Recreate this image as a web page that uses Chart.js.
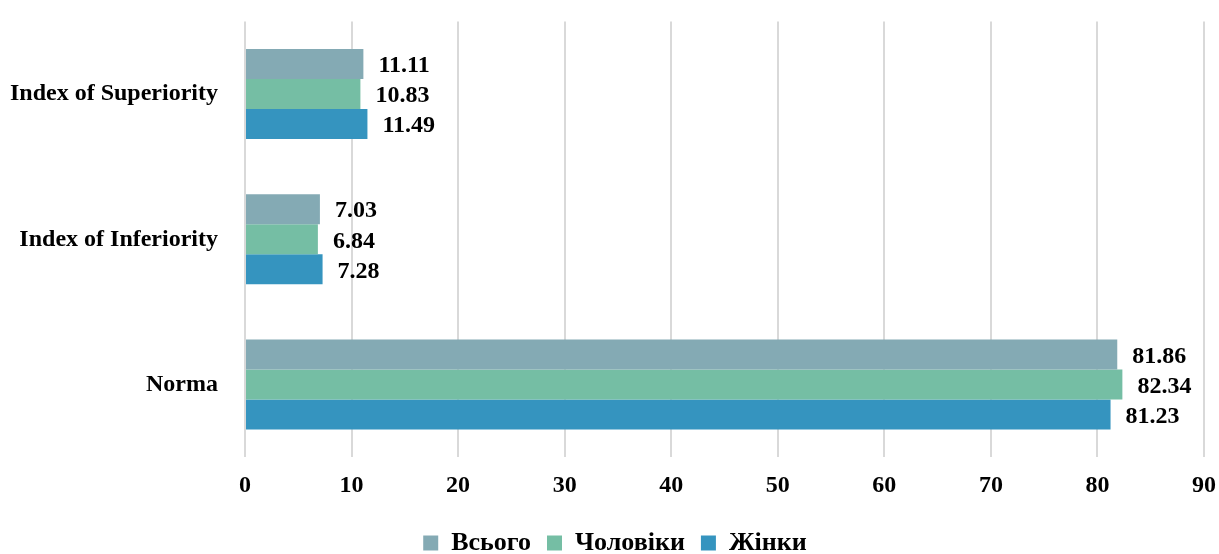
<!DOCTYPE html>
<html>
<head>
<meta charset="utf-8">
<script src="https://cdn.jsdelivr.net/npm/chart.js@4"></script>
<style>
  html, body { margin: 0; padding: 0; background: #ffffff; overflow: hidden; }
  body { width: 1219px; height: 554px; }
  #wrap { position: relative; top: -12px; width: 1230px; height: 578px; }
</style>
</head>
<body>
<div id="wrap"><canvas id="indexChart"></canvas></div>
<script>
// categories and series
const categories = ['Index of Superiority', 'Index of Inferiority', 'Norma'];
const seriesNames = ['Всього', 'Чоловіки', 'Жінки'];
const totalValues = [11.11, 7.03, 81.86];
const menValues = [10.83, 6.84, 82.34];
const womenValues = [11.49, 7.28, 81.23];
const seriesColors = ['#84aab4', '#75bea4', '#3594bf'];

const FONT = '"Liberation Serif", "Times New Roman", serif';

// draws value labels to the right of each bar
const valueLabels = {
  id: 'valueLabels',
  afterDatasetsDraw(chart) {
    const ctx = chart.ctx;
    ctx.save();
    ctx.font = 'bold 24px ' + FONT;
    ctx.fillStyle = '#000000';
    ctx.textBaseline = 'middle';
    ctx.textAlign = 'left';
    chart.data.datasets.forEach((ds, i) => {
      const meta = chart.getDatasetMeta(i);
      meta.data.forEach((bar, j) => {
        ctx.fillText(ds.data[j].toFixed(2), bar.x + 15, bar.y + 2);
      });
    });
    ctx.restore();
  }
};

const ctx = document.getElementById('indexChart').getContext('2d');
new Chart(ctx, {
  type: 'bar',
  data: {
    labels: categories,
    datasets: [
      { label: seriesNames[0], data: totalValues, backgroundColor: seriesColors[0] },
      { label: seriesNames[1], data: menValues, backgroundColor: seriesColors[1] },
      { label: seriesNames[2], data: womenValues, backgroundColor: seriesColors[2] }
    ]
  },
  options: {
    indexAxis: 'y',
    responsive: true,
    maintainAspectRatio: false,
    animation: false,
    datasets: {
      bar: { categoryPercentage: 0.62, barPercentage: 1.0 }
    },
    layout: { padding: { top: 2, right: 0, bottom: 0, left: 0 } },
    scales: {
      x: {
        min: 0,
        max: 90,
        ticks: {
          stepSize: 10,
          padding: 14,
          color: '#000000',
          font: { size: 24, weight: 'bold', family: FONT }
        },
        grid: { color: '#d9d9d9', lineWidth: 2, drawTicks: false },
        border: { display: false }
      },
      y: {
        afterFit(scale) { scale.width = 245; },
        ticks: {
          padding: 19,
          color: '#000000',
          font: { size: 24, weight: 'bold', family: FONT }
        },
        grid: { display: false },
        border: { display: false }
      }
    },
    plugins: {
      legend: {
        position: 'bottom',
        labels: {
          boxWidth: 15,
          boxHeight: 15,
          padding: 16,
          color: '#000000',
          font: { size: 26, weight: 'bold', family: FONT }
        }
      },
      tooltip: { enabled: false }
    }
  },
  plugins: [valueLabels]
});
</script>
</body>
</html>
